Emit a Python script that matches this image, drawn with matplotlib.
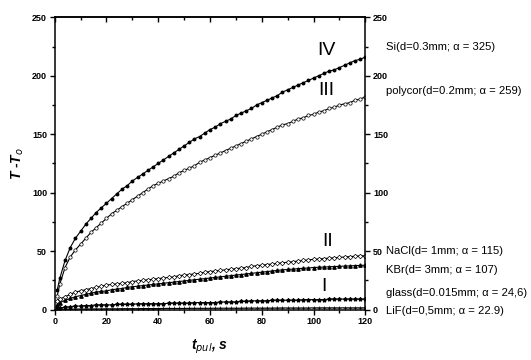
import numpy as np
import matplotlib
matplotlib.use('Agg')
import matplotlib.pyplot as plt
from matplotlib.ticker import MultipleLocator

plt.rcParams['font.family'] = ['Liberation Sans', 'DejaVu Sans']

# time points, s
t = [1] + list(range(2, 121, 2))

# curve IV: Si
si = [17, 27, 42, 53, 61, 67, 73, 78, 83, 87, 91, 95, 99, 103, 106, 110, 113, 116,
      119, 122, 125, 128, 131, 134, 137, 140, 143, 146, 148, 151, 154, 156, 159,
      161, 163, 166, 168, 170, 172, 175, 177, 179, 181, 183, 186, 188, 190, 192,
      194, 196, 198, 200, 202, 204, 205, 207, 209, 211, 213, 214, 216]
# curve III: polycor
polycor = [12, 22, 36, 45, 51, 56, 61, 66, 70, 74, 78, 82, 85, 88, 91, 94, 97, 100,
           103, 106, 108, 110, 112, 114, 117, 119, 121, 123, 126, 128, 130, 132, 134,
           136, 138, 140, 142, 144, 146, 148, 150, 152, 154, 156, 158, 159, 161, 163,
           164, 166, 167, 169, 170, 172, 173, 175, 176, 177, 179, 180, 182]
# curve II: NaCl, KBr
nacl = [7, 9, 11, 13, 15, 16, 17, 18, 19, 20, 21, 21.5, 22, 22.5, 23, 24, 24.5, 25,
        25.5, 26, 26.5, 27, 27.5, 28, 29, 29.5, 30, 30.5, 31, 32, 32.5, 33, 33.5, 34,
        34.5, 35, 35.5, 36, 37, 37.5, 38, 38.5, 39, 39.5, 40, 40.5, 41, 41.5, 42,
        42.5, 43, 43.3, 43.6, 44, 44.3, 44.6, 45, 45.3, 45.6, 46, 46]
kbr = [4, 6, 8, 9.5, 11, 12, 13, 14, 15, 15.5, 16, 17, 17.5, 18, 19, 19.5, 20, 20.5,
       21, 21.5, 22, 22.5, 23, 23.5, 24, 24.5, 25, 25.5, 26, 26.5, 27, 27.5, 28, 28.5,
       29, 29.5, 30, 30.5, 31, 31.5, 32, 32.5, 33, 33.5, 34, 34.3, 34.6, 35, 35.3,
       35.6, 36, 36.2, 36.4, 36.6, 36.8, 37, 37.2, 37.4, 37.6, 37.8, 38]
# curve I: glass, LiF
glass = [1, 1.5, 2, 2.5, 3, 3, 3.5, 3.5, 4, 4, 4, 4, 4.5, 4.5, 4.5, 4.5, 5, 5, 5,
         5, 5, 5, 5.5, 5.5, 5.5, 5.5, 5.5, 6, 6, 6, 6, 6, 6.5, 6.5, 6.5, 6.5, 7, 7,
         7.5, 7.5, 7.5, 7.5, 8, 8, 8, 8, 8, 8, 8.5, 8.5, 8.5, 8.5, 8.5, 9, 9, 9, 9,
         9, 9, 9, 9]
lif = [0.3, 0.3, 0.4, 0.4, 0.5, 0.5, 0.5, 0.6, 0.6, 0.6, 0.7, 0.7, 0.7, 0.8, 0.8,
       0.8, 0.8, 0.9, 0.9, 0.9, 0.9, 1.0, 1.0, 1.0, 1.0, 1.0, 1.1, 1.1, 1.1, 1.1, 1.1,
       1.2, 1.2, 1.2, 1.2, 1.2, 1.2, 1.3, 1.3, 1.3, 1.3, 1.3, 1.3, 1.4, 1.4, 1.4, 1.4,
       1.4, 1.4, 1.4, 1.5, 1.5, 1.5, 1.5, 1.5, 1.5, 1.5, 1.5, 1.5, 1.5, 1.5]

labels = ['Si(d=0.3mm; α = 325)', 'polycor(d=0.2mm; α = 259)',
          'NaCl(d= 1mm; α = 115)', 'KBr(d= 3mm; α = 107)',
          'glass(d=0.015mm; α = 24,6)', 'LiF(d=0,5mm; α = 22.9)']
label_y = [225, 187, 50, 34, 14, -1]

roman = ['IV', 'III', 'II', 'I']
roman_pos = [(105, 222), (105, 187), (105.5, 58), (104, 19.5)]

fig = plt.figure(figsize=(5.31, 3.6), dpi=100)
ax = fig.add_axes([0.103, 0.14, 0.585, 0.812])

k = dict(color='black', lw=0.8)
ax.plot(t, si, marker='o', ms=1.8, mfc='black', mec='black', **k)
ax.plot(t, polycor, marker='o', ms=2.4, mfc='white', mec='black', mew=0.5, **k)
ax.plot(t, nacl, marker='D', ms=2.3, mfc='white', mec='black', mew=0.5, **k)
ax.plot(t, kbr, marker='^', ms=2.4, mfc='black', mec='black', **k)
ax.plot(t, glass, marker='*', ms=2.8, mfc='black', mec='black', **k)
ax.plot(t, lif, marker='+', ms=2.4, mec='black', mew=0.5, **k)

ax.set_xlim(0, 120)
ax.set_ylim(0, 250)
ax.xaxis.set_major_locator(MultipleLocator(20))
ax.xaxis.set_minor_locator(MultipleLocator(10))
ax.yaxis.set_major_locator(MultipleLocator(50))
ax.yaxis.set_minor_locator(MultipleLocator(25))
ax.tick_params(which='both', direction='out', right=True,
               labelright=True, labelsize=6.5, width=1, pad=2)
ax.tick_params(which='major', length=3.5)
ax.tick_params(which='minor', length=2)
for lab in ax.get_xticklabels() + ax.get_yticklabels():
    lab.set_fontweight('bold')
for s in ax.spines.values():
    s.set_linewidth(1.1)

# top axis: inward ticks, no labels
top = ax.secondary_xaxis('top')
top.xaxis.set_major_locator(MultipleLocator(20))
top.xaxis.set_minor_locator(MultipleLocator(10))
top.tick_params(which='both', direction='in', labeltop=False, width=1)
top.tick_params(which='major', length=3.5)
top.tick_params(which='minor', length=2)
top.spines['top'].set_linewidth(1.1)

ax.set_ylabel('T -T$_o$', fontsize=10, fontweight='bold',
              fontstyle='italic', labelpad=4)
ax.set_xlabel('t$_{pul}$, s', fontsize=10, fontweight='bold',
              fontstyle='italic', labelpad=8)

for txt, yv in zip(labels, label_y):
    ax.text(1.065, yv, txt, transform=ax.get_yaxis_transform(),
            fontsize=8.1, va='center', ha='left')

for r, (xv, yv) in zip(roman, roman_pos):
    ax.text(xv, yv, r, fontsize=14, ha='center', va='center')

fig.savefig('out.png', dpi=100)
